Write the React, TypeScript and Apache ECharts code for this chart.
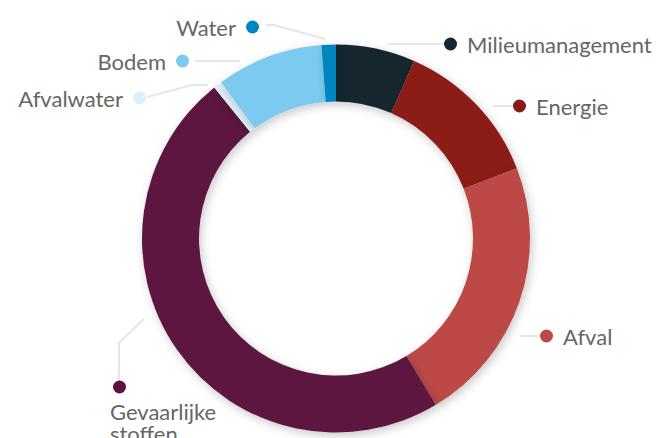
import React, { useEffect, useRef } from "react";
import * as echarts from "echarts";

const categories = [
  "Milieumanagement",
  "Energie",
  "Afval",
  "Gevaarlijke stoffen",
  "Afvalwater",
  "Bodem",
  "Water",
];
const values = [6.6, 12.5, 22.3, 47.8, 0.7, 8.9, 1.2];
const colors = [
  "#16262e",
  "#8b1a16",
  "#bd4846",
  "#5c1340",
  "#ddeff8",
  "#7dcaf1",
  "#0085c1",
];

// label placement (layout, not data)
const labelPlacement: any[] = [
  { x: 444, y: 44, align: "left", line: [[388, 44], [444, 44]] },
  { x: 513, y: 106, align: "left", line: [[492, 106], [513, 106]] },
  { x: 540, y: 336, align: "left", line: [[520, 336], [540, 336]] },
  { x: 110, y: 374, align: "left", line: [[144, 319], [119, 343], [119, 381]] },
  { x: 146, y: 98, align: "right", line: [[147, 97], [192, 85], [208, 85]] },
  { x: 189, y: 61, align: "right", line: [[195, 61], [240, 61]] },
  { x: 259, y: 27, align: "right", line: [[266, 25], [274, 25], [325, 39]] },
];

export default function App() {
  const ref = useRef<HTMLDivElement>(null);
  useEffect(() => {
    document.body.style.margin = "0";
    const chart = echarts.init(ref.current!, null, { renderer: "svg" });
    const data = categories.map((name, i) => {
      const p = labelPlacement[i];
      let formatter: string;
      if (i === 3) {
        formatter = "{sp|}{dotG|}\n{name|Gevaarlijke}\n{name|stoffen}";
      } else if (p.align === "left") {
        formatter = "{dot|}{nameL|" + name + "}";
      } else {
        formatter = "{nameR|" + name + "}{dot|}";
      }
      return {
        name,
        value: values[i],
        itemStyle: { color: colors[i] },
        label: {
          formatter,
          rich: {
            dot: {
              width: 13,
              height: 13,
              borderRadius: 6.5,
              backgroundColor: colors[i],
              lineHeight: 24,
            },
            dotG: {
              width: 13,
              height: 13,
              borderRadius: 6.5,
              backgroundColor: colors[i],
              lineHeight: 26,
            },
          },
        },
      };
    });
    chart.setOption({
      animation: false,
      backgroundColor: "#ffffff",
      series: [
        {
          type: "pie",
          center: [336, 238.5],
          radius: [137, 194],
          startAngle: 90,
          clockwise: true,
          avoidLabelOverlap: false,
          emphasis: { disabled: true },
          itemStyle: {
            shadowBlur: 10,
            shadowColor: "rgba(0,0,0,0.22)",
            shadowOffsetX: 2,
            shadowOffsetY: 3,
          },
          label: {
            show: true,
            position: "outside",
            fontFamily: "Lato",
            rich: {
              sp: { width: 3 },
              nameL: {
                fontFamily: "Lato",
                fontSize: 22,
                color: "#666666",
                padding: [0, 0, 0, 10],
              },
              nameR: {
                fontFamily: "Lato",
                fontSize: 22,
                color: "#666666",
                padding: [0, 10, 0, 0],
              },
              name: {
                fontFamily: "Lato",
                fontSize: 22,
                color: "#666666",
                lineHeight: 22,
              },
            },
          },
          labelLine: {
            show: true,
            lineStyle: { color: "#e6e6e6", width: 2 },
          },
          labelLayout: (params: any) => {
            const p = labelPlacement[params.dataIndex];
            return {
              x: p.x,
              y: p.y,
              align: p.align,
              verticalAlign: params.dataIndex === 3 ? "top" : "middle",
              labelLinePoints: p.line,
              hideOverlap: false,
            };
          },
          data,
        },
      ],
    });
    return () => chart.dispose();
  }, []);
  return <div ref={ref} style={{ width: 659, height: 438 }} />;
}
